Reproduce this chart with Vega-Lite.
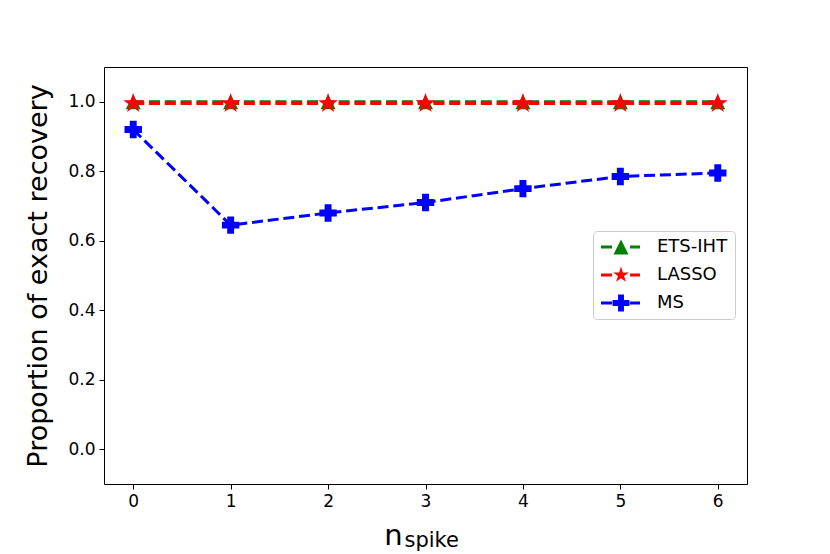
{
  "$schema": "https://vega.github.io/schema/vega-lite/v6.json",
  "width": 643,
  "height": 417,
  "autosize": {"type": "none"},
  "padding": {"left": 104, "top": 67, "right": 83, "bottom": 70},
  "background": "white",
  "config": {
    "font": "DejaVu Sans",
    "view": {"stroke": "black", "strokeWidth": 1},
    "axis": {
      "grid": false,
      "domain": false,
      "ticks": true,
      "tickSize": 5,
      "tickColor": "black",
      "tickWidth": 1,
      "labelFontSize": 17,
      "labelColor": "black",
      "labelFont": "DejaVu Sans",
      "titleFont": "DejaVu Sans",
      "titleFontWeight": "normal",
      "titleColor": "black",
      "labelPadding": 4
    },
    "axisY": {"titleFontSize": 27, "titlePadding": 15}
  },
  "data": {
    "values": [
      {"n": 0, "value": 1.0, "method": "ETS-IHT"},
      {"n": 1, "value": 1.0, "method": "ETS-IHT"},
      {"n": 2, "value": 1.0, "method": "ETS-IHT"},
      {"n": 3, "value": 1.0, "method": "ETS-IHT"},
      {"n": 4, "value": 1.0, "method": "ETS-IHT"},
      {"n": 5, "value": 1.0, "method": "ETS-IHT"},
      {"n": 6, "value": 1.0, "method": "ETS-IHT"},
      {"n": 0, "value": 0.995, "method": "LASSO"},
      {"n": 1, "value": 0.995, "method": "LASSO"},
      {"n": 2, "value": 0.995, "method": "LASSO"},
      {"n": 3, "value": 0.995, "method": "LASSO"},
      {"n": 4, "value": 0.995, "method": "LASSO"},
      {"n": 5, "value": 0.995, "method": "LASSO"},
      {"n": 6, "value": 0.995, "method": "LASSO"},
      {"n": 0, "value": 0.92, "method": "MS"},
      {"n": 1, "value": 0.645, "method": "MS"},
      {"n": 2, "value": 0.68, "method": "MS"},
      {"n": 3, "value": 0.71, "method": "MS"},
      {"n": 4, "value": 0.75, "method": "MS"},
      {"n": 5, "value": 0.785, "method": "MS"},
      {"n": 6, "value": 0.795, "method": "MS"}
    ]
  },
  "encoding": {
    "y": {
      "field": "value",
      "type": "quantitative",
      "scale": {"domain": [-0.1, 1.1], "nice": false, "zero": false},
      "axis": {"values": [0, 0.2, 0.4, 0.6, 0.8, 1.0], "format": ".1f", "title": "Proportion of exact recovery"}
    }
  },
  "layer": [
    {
      "mark": {"type": "line", "strokeWidth": 3, "strokeDash": [11, 4.8]},
      "encoding": {
        "x": {
          "field": "n",
          "type": "quantitative",
          "scale": {"domain": [-0.3, 6.3], "nice": false, "zero": false},
          "axis": {
            "orient": "bottom",
            "values": [0, 1, 2, 3, 4, 5, 6],
            "format": "d",
            "title": "n",
            "titleFontSize": 29,
            "titleAlign": "center",
            "titleBaseline": "alphabetic",
            "titleX": 289,
            "titleY": 60
          }
        },
        "color": {
          "field": "method",
          "type": "nominal",
          "scale": {"domain": ["ETS-IHT", "LASSO", "MS"], "range": ["#008000", "#ff0000", "#0000ff"]},
          "legend": null
        }
      }
    },
    {
      "mark": {"type": "point", "filled": true, "size": 441, "opacity": 1, "strokeWidth": 0},
      "encoding": {
        "x": {
          "field": "n",
          "type": "quantitative",
          "scale": {"domain": [-0.3, 6.3], "nice": false, "zero": false},
          "axis": null
        },
        "color": {
          "field": "method",
          "type": "nominal",
          "scale": {"domain": ["ETS-IHT", "LASSO", "MS"], "range": ["#008000", "#ff0000", "#0000ff"]},
          "legend": null
        },
        "shape": {
          "field": "method",
          "type": "nominal",
          "scale": {
            "domain": ["ETS-IHT", "LASSO", "MS"],
            "range": [
              "M0,-0.714 L0.714,0.714 L-0.714,0.714 Z",
              "M0,-1 L0.2245,-0.309 L0.951,-0.309 L0.363,0.118 L0.588,0.809 L0,0.382 L-0.588,0.809 L-0.363,0.118 L-0.951,-0.309 L-0.2245,-0.309 Z",
              "M-0.33,-0.83 L0.33,-0.83 L0.33,-0.33 L0.83,-0.33 L0.83,0.33 L0.33,0.33 L0.33,0.83 L-0.33,0.83 L-0.33,0.33 L-0.83,0.33 L-0.83,-0.33 L-0.33,-0.33 Z"
            ]
          },
          "legend": null
        }
      }
    },
    {
      "mark": {"type": "point", "filled": true, "opacity": 0},
      "encoding": {
        "x": {
          "field": "n",
          "type": "quantitative",
          "scale": {"domain": [-0.3, 6.3], "nice": false, "zero": false},
          "axis": {
            "orient": "bottom",
            "labels": false,
            "ticks": false,
            "domain": false,
            "grid": false,
            "title": "spike",
            "titleFontSize": 21,
            "titleAlign": "left",
            "titleBaseline": "alphabetic",
            "titleX": 300,
            "titleY": 62
          }
        },
        "color": {
          "field": "method",
          "type": "nominal",
          "scale": {"domain": ["ETS-IHT", "LASSO", "MS"], "range": ["#008000", "#ff0000", "#0000ff"]},
          "legend": {
            "title": null,
            "orient": "none",
            "legendX": 489,
            "legendY": 164,
            "symbolSize": 256,
            "symbolStrokeWidth": 0,
            "symbolOpacity": 1,
            "labelFontSize": 18,
            "labelFont": "DejaVu Sans",
            "labelColor": "black",
            "labelOffset": 39,
            "padding": 7,
            "rowPadding": 10,
            "fillColor": "rgba(255,255,255,0.8)",
            "strokeColor": "#cccccc",
            "cornerRadius": 4
          }
        },
        "shape": {
          "field": "method",
          "type": "nominal",
          "scale": {
            "domain": ["ETS-IHT", "LASSO", "MS"],
            "range": [
              "M-1,-0.19 L0.375,-0.19 L0.375,0.19 L-1,0.19 Z M2.625,-0.19 L3.875,-0.19 L3.875,0.19 L2.625,0.19 Z M1.5,-0.94 L2.44,0.94 L0.56,0.94 Z",
              "M-1,-0.19 L0.375,-0.19 L0.375,0.19 L-1,0.19 Z M2.625,-0.19 L3.875,-0.19 L3.875,0.19 L2.625,0.19 Z M1.5,-1.05 L1.7357,-0.3245 L2.4986,-0.3245 L1.8812,0.1239 L2.1174,0.8495 L1.5,0.4011 L0.8826,0.8495 L1.1188,0.1239 L0.5014,-0.3245 L1.2643,-0.3245 Z",
              "M-1,-0.19 L0.375,-0.19 L0.375,0.19 L-1,0.19 Z M2.625,-0.19 L3.875,-0.19 L3.875,0.19 L2.625,0.19 Z M1.13,-1.06 L1.87,-1.06 L1.87,-0.37 L2.56,-0.37 L2.56,0.37 L1.87,0.37 L1.87,1.06 L1.13,1.06 L1.13,0.37 L0.44,0.37 L0.44,-0.37 L1.13,-0.37 Z"
            ]
          },
          "legend": {
            "title": null,
            "orient": "none",
            "legendX": 489,
            "legendY": 164,
            "symbolSize": 256,
            "symbolStrokeWidth": 0,
            "symbolOpacity": 1,
            "labelFontSize": 18,
            "labelFont": "DejaVu Sans",
            "labelColor": "black",
            "labelOffset": 39,
            "padding": 7,
            "rowPadding": 10,
            "fillColor": "rgba(255,255,255,0.8)",
            "strokeColor": "#cccccc",
            "cornerRadius": 4
          }
        }
      }
    }
  ],
  "resolve": {"scale": {"shape": "independent", "color": "independent"}, "axis": {"x": "independent"}}
}
